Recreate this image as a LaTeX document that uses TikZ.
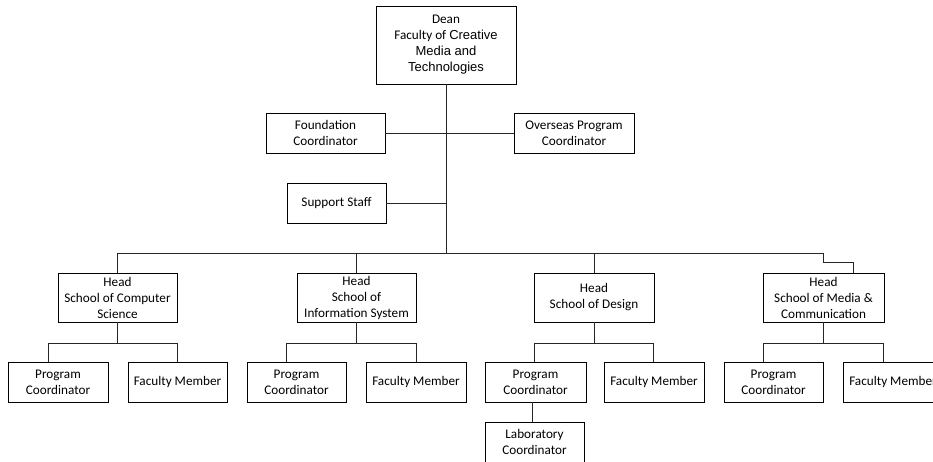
\documentclass[tikz,border=0pt]{standalone}
\usepackage{fontspec}
\setmainfont{Carlito}
\newfontfamily\arialf{Liberation Sans}
\begin{document}
\begin{tikzpicture}[x=1pt,y=-1pt,
  box/.style={draw=black, line width=0.9pt, align=center, inner sep=0pt, text=black,
              font=\fontsize{13.2}{16}\selectfont},
  conn/.style={draw=black!85, line width=0.9pt}]
\clip (0,0) rectangle (933,461);
\fill[white] (0,0) rectangle (933,461);
% top
\node[box, minimum width=140, minimum height=78] (dean) at (446,45)
  {Dean\\Faculty of {\arialf\fontsize{13}{16}\selectfont Creative}\\{\arialf\fontsize{13}{16}\selectfont Media and}\\{\arialf\fontsize{13}{16}\selectfont Technologies}};
\node[box, minimum width=119, minimum height=40] (found) at (325.5,133) {Foundation\\Coordinator};
\node[box, minimum width=120, minimum height=40] (over) at (574,133) {Overseas Program\\Coordinator};
\node[box, minimum width=99, minimum height=40] (support) at (336.5,203) {Support Staff};
% heads
\node[box, minimum width=119, minimum height=49] (hcs) at (117.5,297.5) {Head\\School of Computer\\Science};
\node[box, minimum width=119, minimum height=49] (his) at (356.5,297.5) {Head\\School of\\Information System};
\node[box, minimum width=120, minimum height=49] (hd) at (594,297.5) {Head\\School of Design};
\node[box, minimum width=121, minimum height=49] (hm) at (823.5,297.5) {Head\\School of Media \&\\Communication};
% sub row
\node[box, minimum width=100, minimum height=40] (pc1) at (58,382) {Program\\Coordinator};
\node[box, minimum width=99, minimum height=40] (fm1) at (177.5,382) {Faculty Member};
\node[box, minimum width=99, minimum height=40] (pc2) at (296.5,382) {Program\\Coordinator};
\node[box, minimum width=100, minimum height=40] (fm2) at (416,382) {Faculty Member};
\node[box, minimum width=101, minimum height=40] (pc3) at (535.5,382) {Program\\Coordinator};
\node[box, minimum width=100, minimum height=40] (fm3) at (654,382) {Faculty Member};
\node[box, minimum width=99, minimum height=40] (pc4) at (773.5,382) {Program\\Coordinator};
\node[box, minimum width=100, minimum height=40] (fm4) at (893,382) {Faculty Member};
\node[box, minimum width=99, minimum height=40] (lab) at (534.5,442) {Laboratory\\Coordinator};
% connectors
\coordinate (bar) at (446,253);
\coordinate (mk) at (823,253);
\draw[conn] (dean.south) -- (bar);
\draw[conn] (found.east) -- (over.west);
\draw[conn] (support.east) -- (support.east -| dean.south);
\draw[conn] (hcs.north) |- (mk) -- ++(0,9) -| ([xshift=29.5]hm.north);
\draw[conn] (his.north) -- (his.north |- bar);
\draw[conn] (hd.north) -- (hd.north |- bar);
% school subtrees
\draw[conn] (hcs.south) -- ++(0,21) coordinate (j1);
\draw[conn] ([xshift=-10]pc1.north) |- (j1) -| (fm1.north);
\draw[conn] (his.south) -- ++(0,21) coordinate (j2);
\draw[conn] ([xshift=-10]pc2.north) |- (j2) -| (fm2.north);
\draw[conn] (hd.south) -- ++(0,21) coordinate (j3);
\draw[conn] ([xshift=-1.5]pc3.north) |- (j3) -| ([xshift=-1]fm3.north);
\draw[conn] (hm.south) -- ++(0,21) coordinate (j4);
\draw[conn] ([xshift=-10]pc4.north) |- (j4) -| ([xshift=-10]fm4.north);
\draw[conn] ([xshift=-3]pc3.south) -- ([xshift=-3]pc3.south |- lab.north);
\end{tikzpicture}
\end{document}
